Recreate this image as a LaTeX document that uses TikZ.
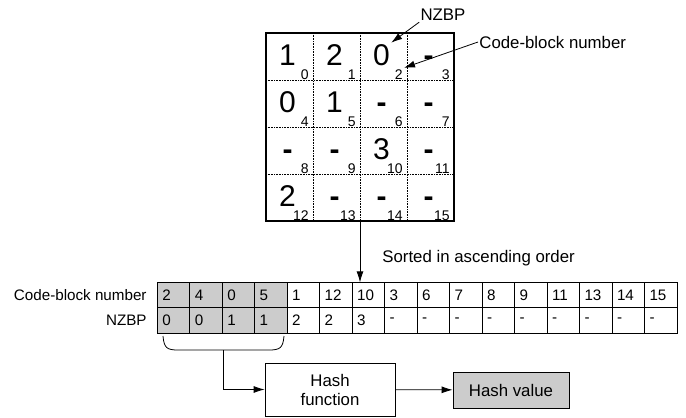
\documentclass[tikz,border=0pt]{standalone}
\usepackage{fontspec}
\setmainfont{Liberation Sans}
\usetikzlibrary{arrows.meta,positioning,calc}
\definecolor{cellgray}{gray}{0.8}
\newcommand{\dsh}{\textbf{-}}

\tikzset{
  cbox/.style={draw, line width=0.8pt, minimum width=32.48pt, text width=22.48pt,
    inner xsep=5pt, minimum height=25.3pt, align=left, outer sep=0pt,
    font=\fontsize{15.2}{16}\selectfont},
  bigval/.style={inner sep=1pt, anchor=base, font=\fontsize{30}{32}\selectfont},
  subnum/.style={inner sep=1pt, anchor=base east, font=\fontsize{14}{15}\selectfont},
  lbl/.style={inner sep=1pt, font=\fontsize{16.8}{19}\selectfont},
  rowlbl/.style={inner sep=1pt, anchor=east, font=\fontsize{15.2}{16}\selectfont},
}

\begin{document}
\begin{tikzpicture}[x=1pt,y=-1pt,line width=0.8pt,>={Latex[length=11pt,width=7pt]}]
\useasboundingbox (0,0) rectangle (686,418);

% code-block grid
\foreach \i in {1,2,3} {
  \draw[densely dotted,line width=0.6pt] (266+47*\i,33) -- (266+47*\i,221);
  \draw[densely dotted,line width=0.6pt] (266,33+47*\i) -- (454,33+47*\i);
}
\node[draw, line width=2.2pt, minimum size=188pt, inner sep=0pt, outer sep=0pt] (grid) at (360,127) {};

\foreach \v [count=\i from 0] in {1,2,0,\dsh,0,1,\dsh,\dsh,\dsh,\dsh,3,\dsh,2,\dsh,\dsh,\dsh} {
  \pgfmathtruncatemacro\col{mod(\i,4)}
  \pgfmathtruncatemacro\row{div(\i,4)}
  \node[bigval] (v\i) at (266+47*\col+21.5, 33+47*\row+32) {\v};
  \node[subnum] (s\i) at (266+47*\col+44, 33+47*\row+46) {\i};
}

\node[lbl] (nzbp) at (443,15) {NZBP};
\node[lbl, anchor=west] (cbl) at (478,42) {Code-block number};
\draw[->] (nzbp.south west) -- (v2.north east);
\draw[->] (cbl.west) -- (s2.north east);

% sorted table
\foreach \c [count=\k from 0] in {2,4,0,5,1,12,10,3,6,7,8,9,11,13,14,15} {
  \ifnum\k<4 \def\fillc{cellgray}\else\def\fillc{white}\fi
  \node[cbox, fill=\fillc] (cb\k) at (157.3+32.48*\k+16.24,295) {\c};
}
\foreach \c [count=\k from 0] in {0,0,1,1,2,2,3,-,-,-,-,-,-,-,-,-} {
  \ifnum\k<4 \def\fillc{cellgray}\else\def\fillc{white}\fi
  \node[cbox, fill=\fillc] (nz\k) at (157.3+32.48*\k+16.24,320.3) {\c};
}
\node[rowlbl] (rowcb) at (148,295) {Code-block number};
\node[rowlbl] (rownz) at (148,320.3) {NZBP};

\draw[->] (grid.south) -- (grid.south |- cb6.north);
\node[lbl, anchor=west] (sorted) at (381,258) {Sorted in ascending order};

% hashing
\draw (163,336) .. controls (164,348) and (167,350) .. (178,350)
  -- coordinate (brc) (269,350) .. controls (280,350) and (283,348) .. (284,336);
\node[lbl, draw, minimum width=130pt, minimum height=53pt, align=center] (hashfn) at (330,389.5) {Hash\\function};
\node[lbl, draw, fill=cellgray, minimum width=116pt, minimum height=36pt] (hashval) at (511,390) {Hash value};
\draw[->] (brc) |- (hashfn.west);
\draw[->] (hashfn) -- (hashval);
\end{tikzpicture}
\end{document}
